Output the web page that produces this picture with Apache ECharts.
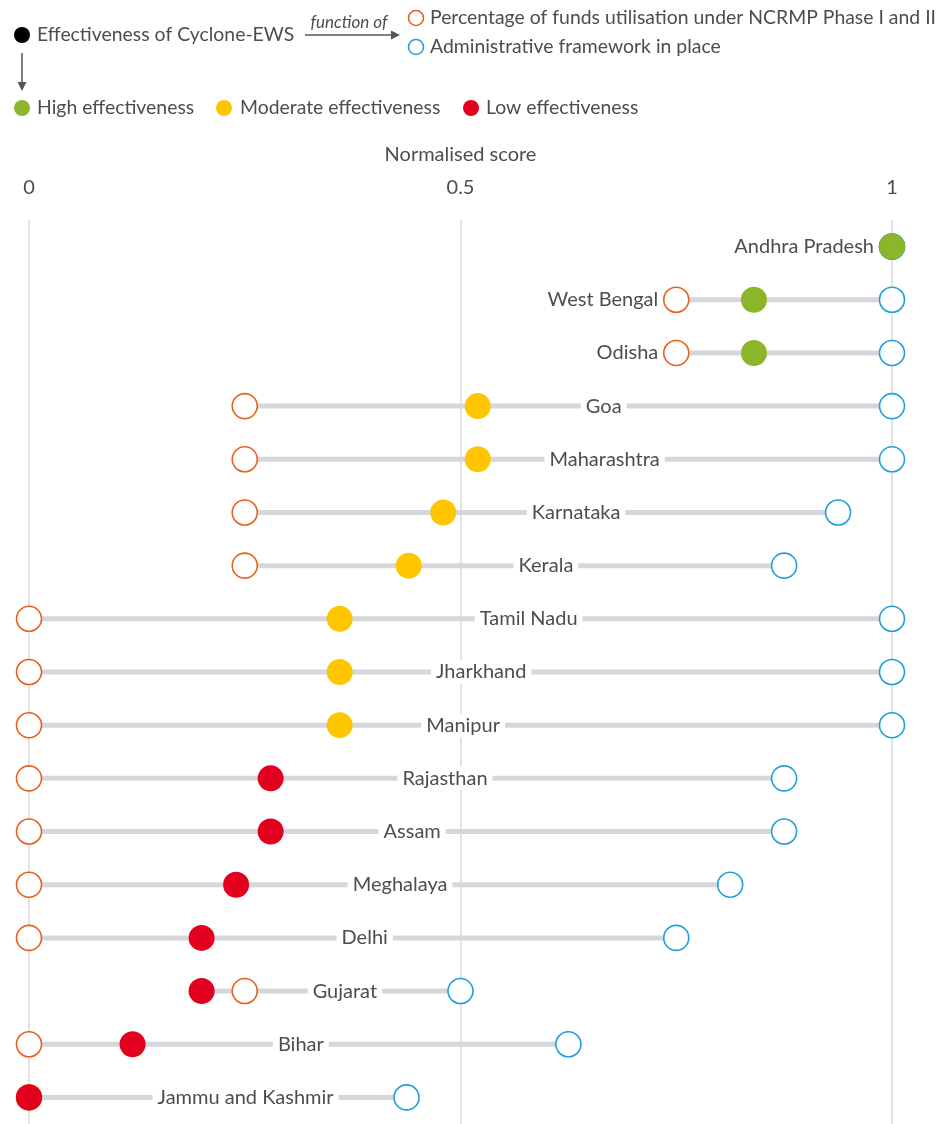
<!DOCTYPE html>
<html>
<head>
<meta charset="utf-8">
<script src="https://cdn.jsdelivr.net/npm/echarts@6/dist/echarts.min.js"></script>
<style>
html,body{margin:0;padding:0;background:#fff;}
#main{width:941px;height:1124px;}
</style>
</head>
<body>
<div id="main"></div>
<script>
// states, top to bottom
var states = ['Andhra Pradesh', 'West Bengal', 'Odisha', 'Goa', 'Maharashtra', 'Karnataka', 'Kerala',
    'Tamil Nadu', 'Jharkhand', 'Manipur', 'Rajasthan', 'Assam', 'Meghalaya', 'Delhi', 'Gujarat', 'Bihar',
    'Jammu and Kashmir'];
// funds utilisation under NCRMP (normalised)
var funds = [1, 0.75, 0.75, 0.25, 0.25, 0.25, 0.25, 0, 0, 0, 0, 0, 0, 0, 0.25, 0, 0];
// administrative framework in place (normalised)
var admin = [1, 1, 1, 1, 1, 0.9375, 0.875, 1, 1, 1, 0.875, 0.875, 0.8125, 0.75, 0.5, 0.625, 0.4375];
// effectiveness of cyclone EWS
var effect = [1, 0.84, 0.84, 0.52, 0.52, 0.48, 0.44, 0.36, 0.36, 0.36, 0.28, 0.28, 0.24, 0.2, 0.2, 0.12, 0];
var level = ['High', 'High', 'High', 'Moderate', 'Moderate', 'Moderate', 'Moderate', 'Moderate', 'Moderate',
    'Moderate', 'Low', 'Low', 'Low', 'Low', 'Low', 'Low', 'Low'];
// where the state name sits on its line (null = left of the line)
var labelAt = [null, null, null, 0.666, 0.667, 0.634, 0.599, 0.579, 0.524, 0.503, 0.482, 0.444, 0.43,
    0.389, 0.366, 0.315, 0.251];
var xTicks = [0, 0.5, 1];

var levelColor = {High: '#8cb62a', Moderate: '#ffc600', Low: '#e2001f'};
var ORANGE = '#e8601c', BLUE = '#1ea0dc', TXT = '#4d4d4d', FONT = 'Lato, "Noto Sans", sans-serif';
var LEG = '19.4px ' + FONT;

var myChart = echarts.init(document.getElementById('main'));

var rangeData = states.map(function (s, i) {
    var lo = Math.min(funds[i], admin[i], effect[i]);
    var hi = Math.max(funds[i], admin[i], effect[i]);
    return [lo, hi, i];
});

function renderRange(params, api) {
    var i = api.value(2);
    var a = api.coord([api.value(0), i]);
    var b = api.coord([api.value(1), i]);
    var kids = [{
        type: 'line',
        shape: {x1: a[0], y1: a[1], x2: b[0], y2: b[1]},
        style: {stroke: '#d6d7dd', lineWidth: 5}
    }];
    var txt;
    if (labelAt[i] == null) {
        txt = {text: states[i], x: a[0] - 18, y: a[1], align: 'right', verticalAlign: 'middle'};
    } else {
        var p = api.coord([labelAt[i], i]);
        txt = {text: states[i], x: p[0], y: p[1], align: 'center', verticalAlign: 'middle',
            backgroundColor: '#fff', padding: [2, 5]};
    }
    txt.fill = TXT;
    txt.font = '20px ' + FONT;
    kids.push({type: 'text', style: txt, z2: 10});
    return {type: 'group', children: kids};
}

function hollow(arr, color) {
    return {
        type: 'scatter',
        data: arr.map(function (v, i) { return [v, i]; }),
        symbol: 'circle',
        symbolSize: 25,
        itemStyle: {color: '#fff', borderColor: color, borderWidth: 1.6, opacity: 1},
        emphasis: {disabled: true},
        z: 3
    };
}

option = {
    backgroundColor: '#fff',
    animation: false,
    textStyle: {fontFamily: FONT},
    grid: {left: 29, right: 49, top: 220, height: 908},
    xAxis: {
        type: 'value',
        position: 'top',
        min: 0, max: 1, interval: 0.5,
        name: 'Normalised score',
        nameLocation: 'middle',
        nameGap: 55,
        nameTextStyle: {color: TXT, fontSize: 20, fontFamily: FONT},
        axisLine: {show: false},
        axisTick: {show: false},
        axisLabel: {
            color: TXT, fontSize: 20, margin: 22, fontFamily: FONT,
            formatter: function (v) { return xTicks.indexOf(v) > -1 ? String(v) : ''; }
        },
        splitLine: {lineStyle: {color: '#d9d9de', width: 1.5}}
    },
    yAxis: {
        type: 'category',
        data: states,
        inverse: true,
        show: false
    },
    series: [
        {type: 'custom', renderItem: renderRange, data: rangeData, encode: {x: [0, 1], y: 2}, z: 2, silent: true},
        hollow(funds, ORANGE),
        hollow(admin, BLUE),
        {
            type: 'scatter',
            data: effect.map(function (v, i) {
                return {value: [v, i], itemStyle: {color: levelColor[level[i]], opacity: 1}};
            }),
            symbol: 'circle',
            symbolSize: 26,
            emphasis: {disabled: true},
            z: 4
        }
    ],
    graphic: [
        {type: 'circle', shape: {cx: 22, cy: 35, r: 8}, style: {fill: '#000'}},
        {type: 'text', style: {text: 'Effectiveness of Cyclone-EWS', x: 37, y: 35, verticalAlign: 'middle', fill: TXT, font: LEG}},
        {type: 'line', shape: {x1: 305, y1: 35, x2: 393, y2: 35}, style: {stroke: '#555', lineWidth: 1.5}},
        {type: 'polygon', shape: {points: [[400, 35], [391, 30.5], [391, 39.5]]}, style: {fill: '#555'}},
        {type: 'text', style: {text: 'function of', x: 349, y: 23, align: 'center', verticalAlign: 'middle', fill: TXT, font: 'italic 17px ' + FONT}},
        {type: 'line', shape: {x1: 22, y1: 53, x2: 22, y2: 83}, style: {stroke: '#555', lineWidth: 1.5}},
        {type: 'polygon', shape: {points: [[22, 91], [17.5, 82], [26.5, 82]]}, style: {fill: '#555'}},
        {type: 'circle', shape: {cx: 416, cy: 18, r: 7.5}, style: {fill: '#fff', stroke: ORANGE, lineWidth: 1.6}},
        {type: 'text', style: {text: 'Percentage of funds utilisation under NCRMP Phase I and II', x: 430, y: 18, verticalAlign: 'middle', fill: TXT, font: LEG}},
        {type: 'circle', shape: {cx: 416, cy: 47, r: 7.5}, style: {fill: '#fff', stroke: BLUE, lineWidth: 1.6}},
        {type: 'text', style: {text: 'Administrative framework in place', x: 430, y: 47, verticalAlign: 'middle', fill: TXT, font: LEG}},
        {type: 'circle', shape: {cx: 22, cy: 108, r: 8}, style: {fill: levelColor.High}},
        {type: 'text', style: {text: 'High effectiveness', x: 37, y: 108, verticalAlign: 'middle', fill: TXT, font: LEG}},
        {type: 'circle', shape: {cx: 224, cy: 108, r: 8}, style: {fill: levelColor.Moderate}},
        {type: 'text', style: {text: 'Moderate effectiveness', x: 240, y: 108, verticalAlign: 'middle', fill: TXT, font: LEG}},
        {type: 'circle', shape: {cx: 471, cy: 108, r: 8}, style: {fill: levelColor.Low}},
        {type: 'text', style: {text: 'Low effectiveness', x: 486, y: 108, verticalAlign: 'middle', fill: TXT, font: LEG}}
    ]
};
myChart.setOption(option);
</script>
</body>
</html>
